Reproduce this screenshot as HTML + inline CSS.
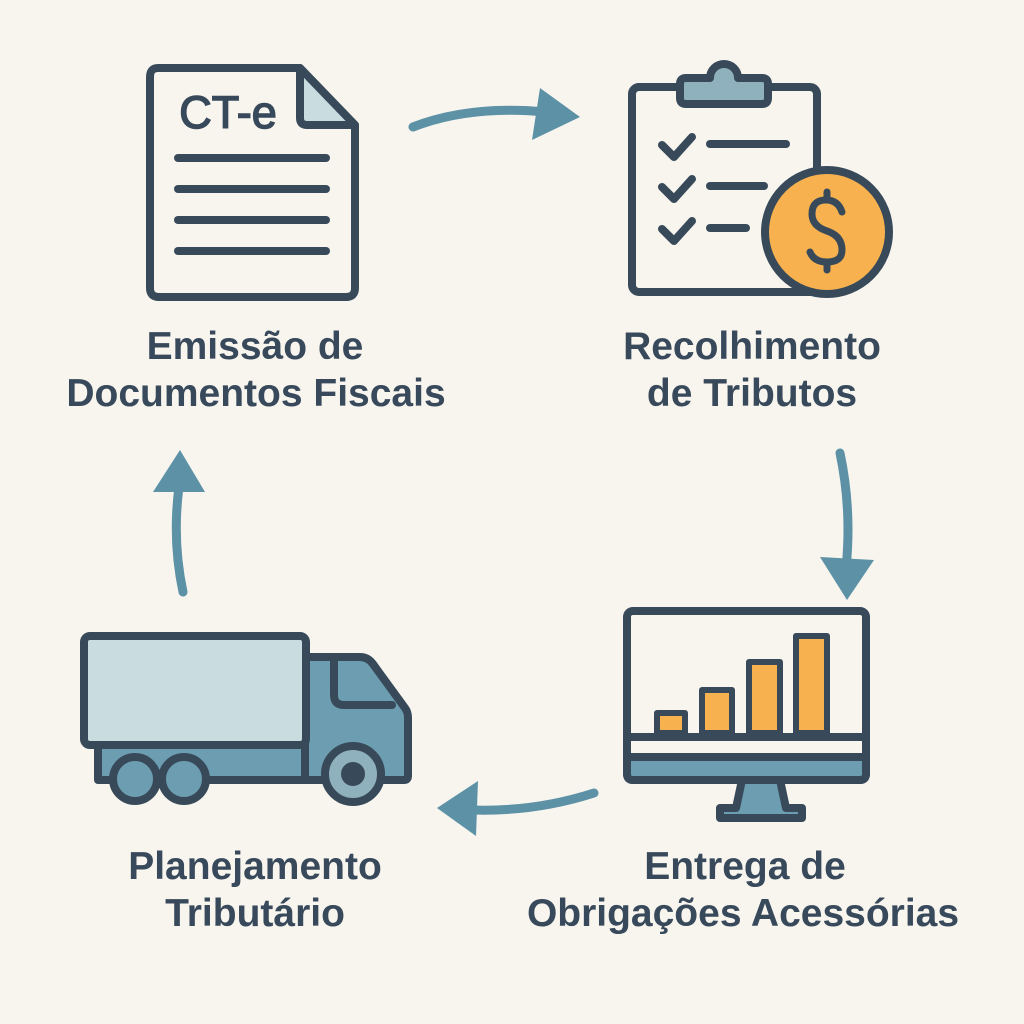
<!DOCTYPE html>
<html><head><meta charset="utf-8"><style>
html,body{margin:0;padding:0;background:#f8f5ef;}
svg{display:block}
text{font-family:"Liberation Sans",sans-serif;font-weight:bold;fill:#37495a;font-size:39px;text-anchor:middle}
</style></head><body>
<svg width="1024" height="1024" viewBox="0 0 1024 1024" xmlns="http://www.w3.org/2000/svg">
<rect width="1024" height="1024" fill="#f8f5ef"/>
<g stroke="#384a5a" stroke-width="8" stroke-linejoin="round" stroke-linecap="round" fill="none">
<path d="M158 68 H300 L355 125 V288 Q355 297 346 297 H159 Q150 297 150 288 V77 Q150 68 158 68 Z" fill="#f8f5ef"/>
<path d="M300 68 V118 Q300 125 307 125 H355 Z" fill="#c9dde1"/>
<line x1="178" y1="158" x2="326" y2="158"/>
<line x1="178" y1="189" x2="326" y2="189"/>
<line x1="178" y1="220" x2="326" y2="220"/>
<line x1="178" y1="251" x2="326" y2="251"/>
<rect x="632" y="87" width="185" height="205" rx="7" fill="#f8f5ef"/>
<path d="M686 78 H710 A14 14 0 0 1 738 78 H762 Q768 78 768 84 V98 Q768 104 762 104 H686 Q680 104 680 98 V84 Q680 78 686 78 Z" fill="#8fb1be"/>
<path d="M662 145 L674 157 L692 137"/><line x1="710" y1="144" x2="786" y2="144"/>
<path d="M662 187 L674 199 L692 179"/><line x1="710" y1="186" x2="764" y2="186"/>
<path d="M662 229 L674 241 L692 221"/><line x1="710" y1="228" x2="746" y2="228"/>
<circle cx="827" cy="232" r="62" fill="#f7b24f"/>
<path d="M842 212 Q838 200 826 200 Q812 200 812 214 Q812 226 827 231 Q842 236 842 250 Q842 262 827 262 Q814 262 810 252" stroke-width="7"/>
<line x1="827" y1="192" x2="827" y2="199" stroke-width="7"/><line x1="827" y1="263" x2="827" y2="270" stroke-width="7"/>
<path d="M742 780 L736 808 H720 V818 H802 V808 H786 L780 780 Z" fill="#6c9db0"/>
<rect x="627" y="611" width="239" height="169" rx="6" fill="#f8f5ef"/>
<path d="M627 757 H866 V774 Q866 780 860 780 H633 Q627 780 627 774 Z" fill="#6c9db0"/>
<line x1="627" y1="737" x2="866" y2="737"/>
<rect x="657" y="713" width="28" height="20" fill="#f7b24f" stroke-width="6"/>
<rect x="702" y="690" width="30" height="43" fill="#f7b24f" stroke-width="6"/>
<rect x="749" y="662" width="31" height="71" fill="#f7b24f" stroke-width="6"/>
<rect x="796" y="636" width="31" height="97" fill="#f7b24f" stroke-width="6"/>
<rect x="98" y="740" width="210" height="40" fill="#6c9db0"/>
<path d="M305 657 H360 Q368 657 373 664 L405 708 Q408 712 408 718 V776 Q408 780 404 780 H305 Z" fill="#6c9db0"/>
<path d="M334 657 V695 Q334 705 344 705 H392" fill="none"/>
<rect x="84" y="636" width="222" height="109" rx="6" fill="#c9dde1"/>
<circle cx="135" cy="779" r="22" fill="#6c9db0"/>
<circle cx="184" cy="779" r="22" fill="#6c9db0"/>
<circle cx="353" cy="774" r="28" fill="#8fb1be"/>
<circle cx="353" cy="774" r="8" fill="#384a5a"/>
</g>
<text x="228" y="128" style="font-size:45px;font-weight:normal;stroke:#37495a;stroke-width:1.5">CT-e</text>
<g stroke="#5d91a6" stroke-width="9" fill="none" stroke-linecap="round">
<path d="M413 127 Q470 105 545 112"/>
<path d="M840 453 Q852 510 846 568"/>
<path d="M594 793 Q535 812 472 810"/>
<path d="M183 592 Q172 540 179 487"/>
</g>
<g fill="#5d91a6">
<polygon points="580,117 540,88 532,140"/>
<polygon points="847,600 820,557 874,560"/>
<polygon points="437,808 478,781 476,836"/>
<polygon points="180,450 153,492 205,492"/>
</g>
<text x="255" y="359">Emissão de</text>
<text x="256" y="406">Documentos Fiscais</text>
<text x="752" y="359">Recolhimento</text>
<text x="752" y="406">de Tributos</text>
<text x="255" y="879">Planejamento</text>
<text x="255" y="926">Tributário</text>
<text x="745" y="879">Entrega de</text>
<text x="743" y="926">Obrigações Acessórias</text>
</svg>
</body></html>
